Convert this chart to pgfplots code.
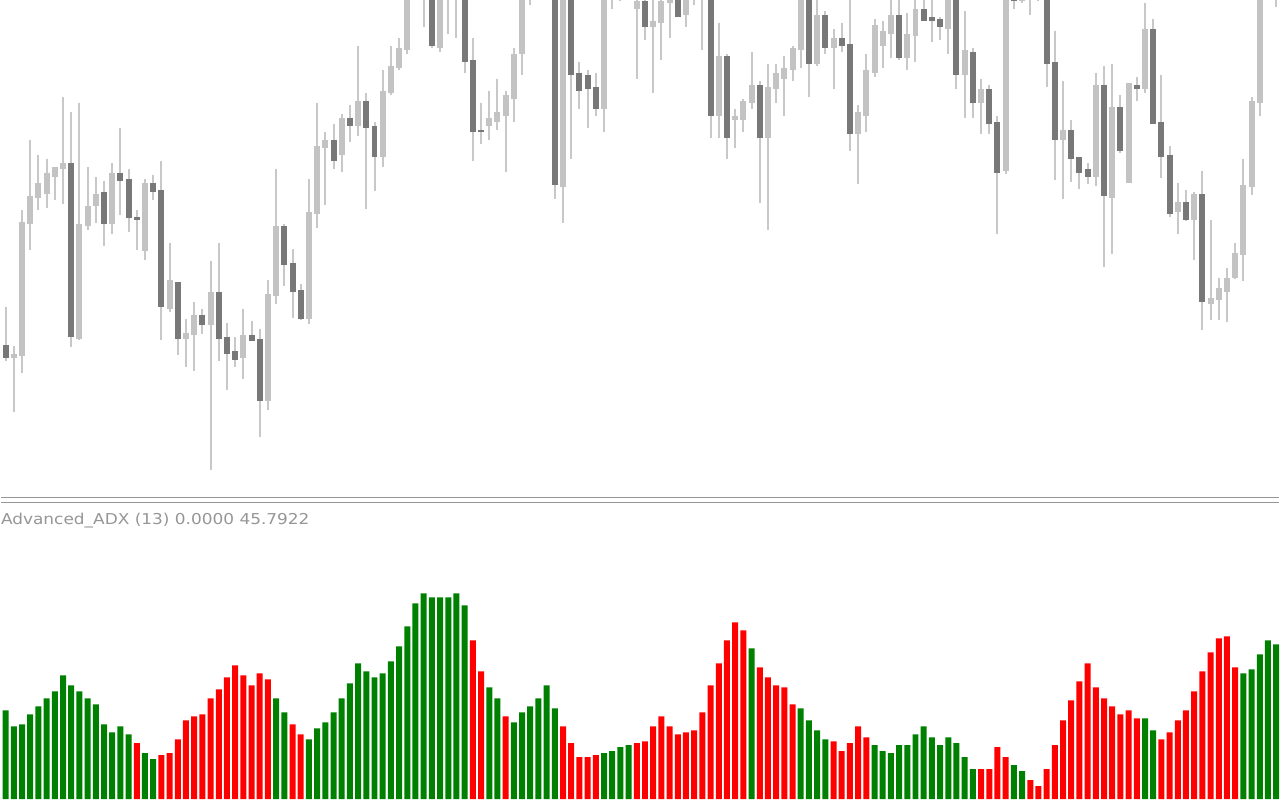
\documentclass[border=0pt]{standalone}
\usepackage{pgfplots}
\usepackage{pgfplotstable}
\usepackage{graphicx}
\usepackage{fontspec}
\setmainfont{DejaVu Sans}
\pgfplotsset{compat=1.18}
\definecolor{wick}{RGB}{200,200,200}
\definecolor{upbody}{RGB}{195,195,195}
\definecolor{dnbody}{RGB}{120,120,120}
\definecolor{adxgreen}{RGB}{0,128,0}
\definecolor{adxred}{RGB}{255,0,0}
\definecolor{sepgray}{RGB}{150,150,150}
\definecolor{labelgray}{RGB}{150,150,150}
% candle geometry (screen units, top = 0, panel bottom = 1491)
\pgfplotstableread{
x hi bt bb lo d
0 921 1037 1073 1085 1
1 1039 1062 1073 1238 0
2 630 666 1067 1121 0
3 420 588 671 752 0
4 465 549 593 630 0
5 477 519 581 624 0
6 501 501 531 600 0
7 291 489 507 612 0
8 336 489 1010 1043 1
9 309 672 1016 1022 0
10 501 618 678 692 0
11 531 582 618 671 0
12 543 576 671 740 1
13 489 519 671 704 0
14 384 519 543 645 1
15 507 537 653 698 1
16 630 653 659 752 1
17 537 549 752 782 0
18 525 549 576 600 1
19 483 570 920 1022 1
20 729 840 926 938 0
21 846 846 1016 1067 1
22 957 999 1016 1103 0
23 906 945 1004 1115 0
24 927 945 974 1004 1
25 783 876 974 1412 0
26 729 876 1016 1085 1
27 969 1011 1061 1172 1
28 1011 1055 1079 1103 1
29 927 1005 1073 1139 0
30 963 1005 1022 1022 1
31 987 1017 1202 1313 1
32 840 882 1202 1232 0
33 507 678 887 912 0
34 672 678 794 858 1
35 747 789 875 956 1
36 852 870 956 962 1
37 537 636 956 974 0
38 309 438 641 686 0
39 396 420 443 617 0
40 372 420 482 506 1
41 342 354 464 518 0
42 315 354 377 425 1
43 138 303 377 407 0
44 279 303 383 629 1
45 366 378 470 575 1
46 210 273 470 500 0
47 138 198 278 284 0
48 114 144 203 209 0
49 -160 -100 149 161 0
50 -200 -150 -60 -30 1
51 -150 -90 -20 80 0
52 -120 -60 138 144 1
53 -100 -40 144 155 0
54 -150 -80 -20 101 0
55 -130 -70 -30 113 1
56 -150 -60 185 218 1
57 114 180 395 482 1
58 309 390 394 431 1
59 273 354 377 419 0
60 237 336 365 389 0
61 272 285 347 518 0
62 144 162 296 365 0
63 -60 -20 161 224 0
64 -120 -60 -20 14 0
65 -150 -100 -40 -10 1
66 -160 -110 -50 -20 0
67 -100 -60 554 599 1
68 -40 -10 560 671 0
69 -80 -30 224 476 1
70 186 219 272 327 1
71 210 225 266 383 1
72 219 261 326 347 1
73 -40 -10 326 395 0
74 -120 -70 -20 26 0
75 -100 -50 -10 3 1
76 -130 -80 -30 -10 0
77 -40 3 26 236 0
78 -20 3 80 119 1
79 -30 63 80 278 0
80 -20 3 68 179 0
81 -40 -10 8 113 0
82 -60 -10 50 50 1
83 -50 -10 44 80 0
84 -80 -40 -10 14 0
85 -60 -30 -10 149 1
86 -40 -10 347 413 1
87 69 168 347 413 0
88 162 168 413 476 1
89 327 348 359 443 0
90 297 303 359 395 0
91 156 255 308 326 0
92 243 255 413 611 1
93 192 261 413 692 0
94 192 219 266 308 0
95 168 204 237 347 0
96 138 144 210 242 0
97 -40 -10 149 203 0
98 -60 -20 191 290 1
99 -10 45 191 197 0
100 33 45 143 161 1
101 87 114 143 266 0
102 69 114 138 155 1
103 -20 132 401 452 1
104 315 336 401 554 0
105 162 210 347 395 0
106 57 75 218 230 0
107 63 93 137 203 0
108 -10 45 101 173 0
109 -10 45 173 179 1
110 39 102 173 209 0
111 -10 27 107 185 0
112 -10 27 62 62 1
113 -10 51 62 125 1
114 51 57 80 119 1
115 -20 -5 86 161 0
116 -30 -5 224 266 1
117 33 150 224 353 0
118 144 156 308 353 1
119 237 267 308 401 0
120 255 267 371 401 1
121 348 366 518 704 1
122 -30 -5 512 524 0
123 -20 -3 3 27 1
124 -20 -3 3 8 0
125 -80 -40 -10 44 0
126 -60 -30 -10 3 1
127 -30 -5 191 260 1
128 93 186 419 542 1
129 243 390 419 599 0
130 360 390 476 548 1
131 471 471 518 569 1
132 489 507 530 554 1
133 219 255 530 560 0
134 198 255 587 802 1
135 192 321 593 764 0
136 285 321 452 458 1
137 249 249 548 548 0
138 231 255 266 302 1
139 9 87 266 278 0
140 57 87 371 371 1
141 225 366 470 536 1
142 438 465 641 653 1
143 549 606 635 704 0
144 570 606 659 665 1
145 576 582 659 782 0
146 513 582 905 992 1
147 660 894 911 962 0
148 834 864 899 962 0
149 804 834 875 968 0
150 729 759 833 839 0
151 477 555 764 845 0
152 291 303 560 587 0
153 -20 -5 308 347 0
154 -100 -60 -20 -5 0
155 -60 -30 -10 20 0
}\candles
% Advanced_ADX histogram: bar heights (screen units), g = 1 green, 0 red
\pgfplotstableread{
x h g
0 89 1
1 73 1
2 75 1
3 85 1
4 93 1
5 101 1
6 108 1
7 124 1
8 114 1
9 108 1
10 101 1
11 95 1
12 75 1
13 67 1
14 73 1
15 65 1
16 56 0
17 46 1
18 40 1
19 44 0
20 46 0
21 60 0
22 79 0
23 83 0
24 85 0
25 101 0
26 110 0
27 122 0
28 134 0
29 124 0
30 114 0
31 126 0
32 120 0
33 101 1
34 87 1
35 75 0
36 65 0
37 60 1
38 71 1
39 77 1
40 87 1
41 101 1
42 116 1
43 136 1
44 128 1
45 122 1
46 126 1
47 138 1
48 153 1
49 173 1
50 196 1
51 206 1
52 202 1
53 202 1
54 202 1
55 206 1
56 194 1
57 159 0
58 128 0
59 112 1
60 101 1
61 83 0
62 77 1
63 87 1
64 93 1
65 101 1
66 114 1
67 91 1
68 73 0
69 56 0
70 42 0
71 42 0
72 44 0
73 46 1
74 48 1
75 52 1
76 54 1
77 56 0
78 58 0
79 73 0
80 83 0
81 73 0
82 65 0
83 67 0
84 69 0
85 87 0
86 114 0
87 136 0
88 159 0
89 177 0
90 169 0
91 151 1
92 132 0
93 122 0
94 114 0
95 112 0
96 95 0
97 91 1
98 79 1
99 69 1
100 60 1
101 58 0
102 48 0
103 56 0
104 73 0
105 62 0
106 54 1
107 48 1
108 46 1
109 54 1
110 54 1
111 65 1
112 73 1
113 62 1
114 54 1
115 62 1
116 56 1
117 42 1
118 30 1
119 30 0
120 30 0
121 52 0
122 42 0
123 34 1
124 28 1
125 19 0
126 13 0
127 30 0
128 54 0
129 79 0
130 99 0
131 118 0
132 136 0
133 112 0
134 101 0
135 93 0
136 85 0
137 89 0
138 81 0
139 81 1
140 69 1
141 60 0
142 67 0
143 79 0
144 89 0
145 108 0
146 128 0
147 147 0
148 161 0
149 163 0
150 132 0
151 126 1
152 130 1
153 145 1
154 159 1
155 155 1
}\adx
\begin{document}
\begin{tikzpicture}
\fill[white] (0,0) rectangle (640pt,400pt);
% price panel
\begin{axis}[
  at={(0pt,151.5pt)}, anchor=south west,
  scale only axis, width=640pt, height=248.5pt,
  xmin=-0.609, xmax=155.39, ymin=0, ymax=1491, y dir=reverse,
  hide axis, clip=true,
]
\addplot[mark=none, wick, line width=1pt, line cap=butt,
  quiver={u=0, v=\thisrow{lo}-\thisrow{hi}}]
  table[x=x, y=hi] {\candles};
\addplot[mark=none, upbody, line width=3pt, line cap=butt,
  restrict expr to domain={\thisrow{d}}{0:0},
  quiver={u=0, v=\thisrow{bb}-\thisrow{bt}+1}]
  table[x=x, y=bt] {\candles};
\addplot[mark=none, dnbody, line width=3pt, line cap=butt,
  restrict expr to domain={\thisrow{d}}{1:1},
  quiver={u=0, v=\thisrow{bb}-\thisrow{bt}+1}]
  table[x=x, y=bt] {\candles};
\end{axis}
\draw[sepgray, line width=0.65pt] (0pt,151pt) -- (640pt,151pt);
\draw[sepgray, line width=0.65pt] (0pt,148.65pt) -- (640pt,148.65pt);
\node[anchor=base west, inner sep=0pt, text=labelgray, font=\fontsize{7.5pt}{9pt}\selectfont]
  at (0pt,137.5pt) {\scalebox{1.13}[1]{Advanced\_ADX (13) 0.0000 45.7922}};
% indicator panel
\begin{axis}[
  at={(0pt,0pt)}, anchor=south west,
  scale only axis, width=640pt, height=147.5pt,
  xmin=-0.609, xmax=155.39, ymin=0, ymax=295,
  hide axis, clip=true,
]
\addplot[ybar, bar width=3pt, bar shift=0pt, fill=adxgreen, draw=none,
  restrict expr to domain={\thisrow{g}}{1:1}] table[x=x, y=h] {\adx};
\addplot[ybar, bar width=3pt, bar shift=0pt, fill=adxred, draw=none,
  restrict expr to domain={\thisrow{g}}{0:0}] table[x=x, y=h] {\adx};
\end{axis}
\end{tikzpicture}
\end{document}
